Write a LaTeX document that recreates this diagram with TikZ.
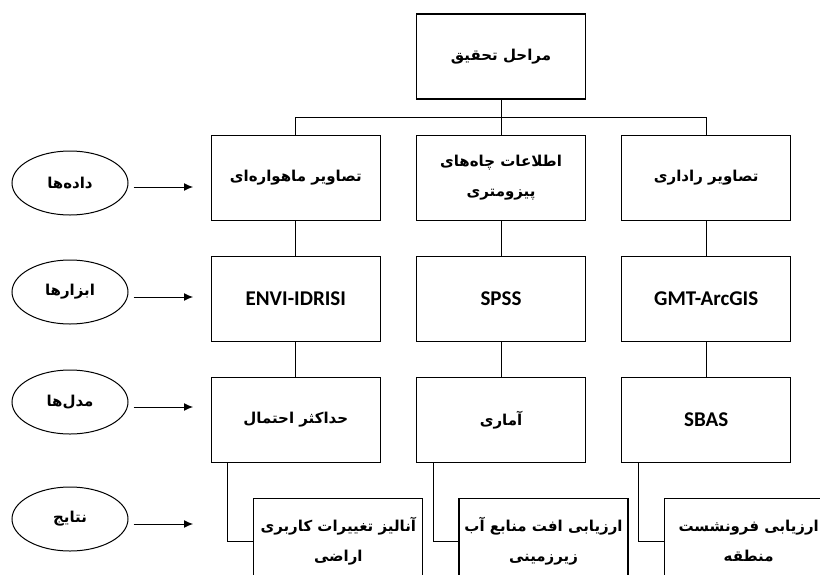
\documentclass[tikz,border=0pt]{standalone}
\usepackage{fontspec}
\setmainfont{Carlito}
\newfontfamily\arabicfont[Script=Arabic]{DejaVu Sans}
\TeXXeTstate=1
\usetikzlibrary{positioning, arrows.meta, shapes.geometric}
\tikzset{
stage/.style={shape=rectangle, minimum width=169pt, minimum height=85pt, inner sep=0, draw, line width=1.2pt, align=center, font=\arabicfont\bfseries\fontsize{15}{30}\selectfont}, tool/.style={stage, font=\bfseries\fontsize{21}{24}\selectfont}, level/.style={ellipse, minimum width=116pt, minimum height=64pt, inner sep=0, draw, line width=1pt, font=\arabicfont\bfseries\fontsize{15}{20}\selectfont}, link/.style={line width=1pt}, feed/.style={-{Latex[length=9pt, width=8pt]}, line width=1pt}}

\begin{document}
\begin{tikzpicture}[x=1pt, y=-1pt, node distance=35pt]
\path [use as bounding box, clip] (0,0) rectangle (820,574);
\node [stage] at (501,56.5) (root) {\beginR مراحل تحقیق\endR};
\node [stage, below=of root] (r1-2) {\beginR اطلاعات چاه‌های\endR\\\beginR پیزومتری\endR};
\node [stage, left=of r1-2] (r1-1) {\beginR تصاویر ماهواره‌ای\endR};
\node [stage, right=of r1-2] (r1-3) {\beginR تصاویر راداری\endR};

\node [tool, below=of r1-1] (r2-1) {ENVI-IDRISI};
\node [tool, below=of r1-2] (r2-2) {SPSS};
\node [tool, below=of r1-3] (r2-3) {GMT-ArcGIS};

\node [stage, below=of r2-1] (r3-1) {\beginR حداکثر احتمال\endR};
\node [stage, below=of r2-2] (r3-2) {\beginR آماری\endR};
\node [tool, below=of r2-3] (r3-3) {SBAS};

\node [stage, below=of r3-1, xshift=42.5pt] (r4-1) {\beginR آنالیز تغییرات کاربری\endR\\\beginR اراضی\endR};
\node [stage, below=of r3-2, xshift=42.5pt] (r4-2) {\beginR ارزیابی افت منابع آب\endR\\\beginR زیرزمینی\endR};
\node [stage, below=of r3-3, xshift=42.5pt] (r4-3) {\beginR ارزیابی فرونشست\endR\\\beginR منطقه\endR};

\coordinate [below=17.5pt of root] (bus);
\draw [link] (root) -- (bus);
\foreach \c in {1,2,3}{
      \draw [link] (bus) -| (r1-\c.north);
      \draw [link] (r1-\c) -- (r2-\c);
      \draw [link] (r2-\c) -- (r3-\c);
      \draw [link] ([xshift=-68pt]r3-\c.south) |- (r4-\c.west);
}

% side labels
\foreach \txt/\ly/\ay [count=\i] in {داده‌ها/183/187, ابزارها/292/297, مدل‌ها/402/407, نتایج/519/524}{
      \node [level] at (70,\ly) (lv-\i) {\beginR \txt\endR};
      \coordinate (tip-\i) at (193,\ay);
      \draw [feed] ([xshift=5pt]lv-\i.east |- tip-\i) -- (tip-\i);
}
\end{tikzpicture}
\end{document}
